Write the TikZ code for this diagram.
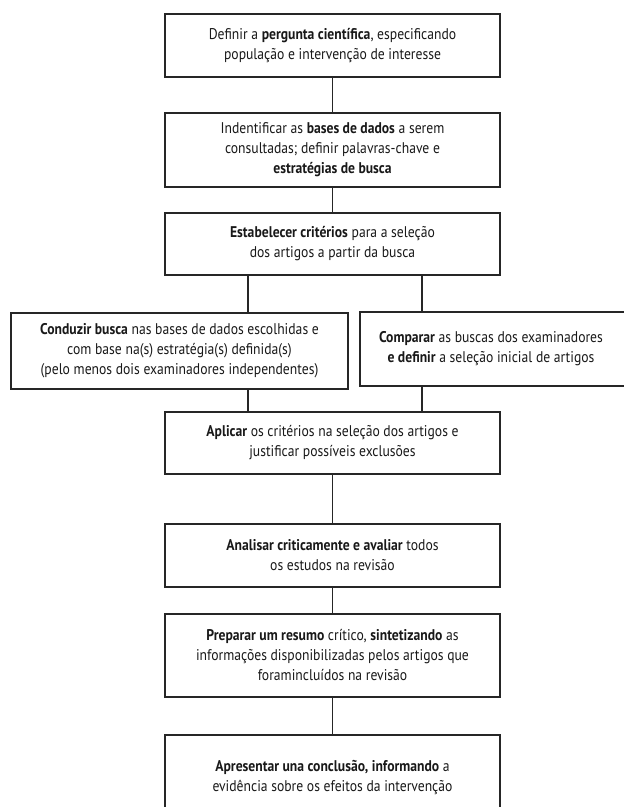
\documentclass[tikz,border=0pt]{standalone}
\usepackage{fontspec}
\setmainfont[FakeStretch=0.88]{PT Sans}
\usetikzlibrary{calc}
\begin{document}
\begin{tikzpicture}[x=1pt,y=-1pt,
  txt/.style={align=center, inner sep=0pt, font=\fontsize{15.5}{20}\selectfont, text=black!90},
  box/.style={txt, draw=black!85, line width=1.5pt},
  conn/.style={draw=black!85, line width=1.5pt}]
\useasboundingbox (0,0) rectangle (624,807);
\coordinate (xl) at (248,0);
\coordinate (xr) at (422,0);
\coordinate (bot) at (0,807);
\coordinate (rgt) at (624,0);

\node[box, minimum width=335pt, minimum height=63pt] (b1) at (332.5,45.5)
  {Definir a \textbf{pergunta científica}, especificando\\população e intervenção de interesse};
\node[box, minimum width=335pt, minimum height=74pt] (b2) at (332.5,150)
  {Indentificar as \textbf{bases de dados} a serem\\consultadas; definir palavras-chave e\\\textbf{estratégias de busca}};
\node[box, minimum width=335pt, minimum height=62pt] (b3) at (332.5,244)
  {\textbf{Estabelecer critérios} para a seleção\\dos artigos a partir da busca};
\node[box, minimum width=337pt, minimum height=76pt] (b4) at (179.5,351)
  {\textbf{Conduzir busca} nas bases de dados escolhidas e\\com base na(s) estratégia(s) definida(s)\\(pelo menos dois examinadores independentes)};
\node[txt, minimum width=262pt, minimum height=74pt] (b5) at (491,349)
  {\textbf{Comparar} as buscas dos examinadores\\\textbf{e definir} a seleção inicial de artigos};
\draw[conn] (b5.north -| rgt) -- (b5.north west) -- (b5.south west) -- (b5.south -| rgt);
\node[box, minimum width=335pt, minimum height=62pt] (b6) at (332.5,443)
  {\textbf{Aplicar} os critérios na seleção dos artigos e\\justificar possíveis exclusões};
\node[box, minimum width=335pt, minimum height=63pt] (b7) at (332.5,555.5)
  {\textbf{Analisar criticamente e avaliar} todos\\os estudos na revisão};
\node[box, minimum width=335pt, minimum height=83pt] (b8) at (332.5,655.5)
  {\textbf{Preparar um resumo} crítico, \textbf{sintetizando} as\\informações disponibilizadas pelos artigos que\\foramincluídos na revisão};
\node[txt, minimum width=335pt, minimum height=84pt] (b9) at (332.5,777)
  {\textbf{Apresentar una conclusão, informando} a\\evidência sobre os efeitos da intervenção};
\draw[conn] (b9.west |- bot) -- (b9.north west) -- (b9.north east) -- (b9.east |- bot);

\draw[conn] (b1.south) -- (b2.north);
\draw[conn] (b2.south) -- (b3.north);
\draw[conn] (b3.south -| xl) -- (b4.north -| xl);
\draw[conn] (b3.south -| xr) -- (b5.north -| xr);
\draw[conn] (b4.south -| xl) -- (b6.north -| xl);
\draw[conn] (b5.south -| xr) -- (b6.north -| xr);
\draw[conn] (b6.south) -- (b7.north);
\draw[conn] (b7.south) -- (b8.north);
\draw[conn] (b8.south) -- (b9.north);
\end{tikzpicture}
\end{document}
